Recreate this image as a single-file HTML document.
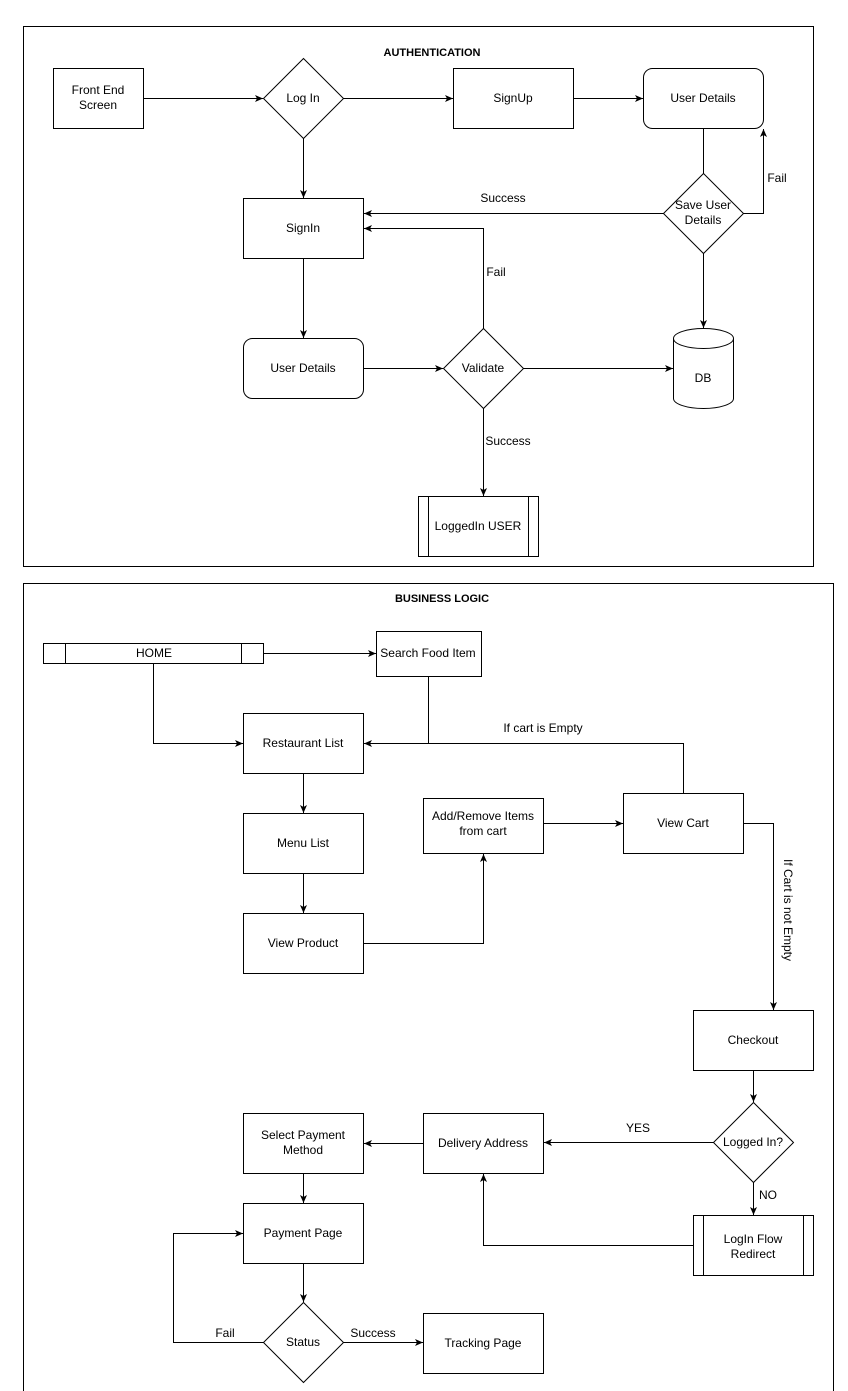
<!DOCTYPE html>
<html><head><meta charset="utf-8"><style>
html,body{margin:0;padding:0;background:#fff;}
svg{display:block;}
text{font-family:"Liberation Sans",Arial,sans-serif;font-size:12px;fill:#000;}
.b{font-weight:bold;font-size:11px;}
</style></head><body>
<svg width="848" height="1391" viewBox="0 0 848 1391" xmlns="http://www.w3.org/2000/svg">
<defs><marker id="a" markerWidth="10" markerHeight="10" refX="9" refY="5" orient="auto" markerUnits="userSpaceOnUse"><path d="M1,1.5 L9,5 L1,8.5 L3,5 Z" fill="#000"/></marker></defs>
<g fill="#fff" stroke="#000" stroke-width="1">
<rect x="23.5" y="26.5" width="790" height="540"/>
<rect x="53.5" y="68.5" width="90" height="60"/>
<polygon points="303.5,58.5 343.5,98.5 303.5,138.5 263.5,98.5"/>
<rect x="453.5" y="68.5" width="120" height="60"/>
<rect x="643.5" y="68.5" width="120" height="60" rx="9"/>
<rect x="243.5" y="198.5" width="120" height="60"/>
<rect x="243.5" y="338.5" width="120" height="60" rx="9"/>
<polygon points="483.5,328.5 523.5,368.5 483.5,408.5 443.5,368.5"/>
<path d="M673.5,338.5 v60 a30,10 0 0 0 60,0 v-60 a30,10 0 0 0 -60,0 a30,10 0 0 0 60,0"/>
<rect x="418.5" y="496.5" width="120" height="60"/>
<path d="M428.5,496.5 v60 M528.5,496.5 v60"/>
</g>
<g fill="none" stroke="#000">
<path d="M703.5,128.5 V173.5"/>
<path d="M143.5,98.5 H263" marker-end="url(#a)"/>
<path d="M343.5,98.5 H453" marker-end="url(#a)"/>
<path d="M573.5,98.5 H643" marker-end="url(#a)"/>
<path d="M303.5,138.5 V198" marker-end="url(#a)"/>
<path d="M663.5,213.5 H364" marker-end="url(#a)"/>
<path d="M743.5,213.5 H763.5 V129" marker-end="url(#a)"/>
<path d="M703.5,253.5 V328" marker-end="url(#a)"/>
<path d="M303.5,258.5 V338" marker-end="url(#a)"/>
<path d="M363.5,368.5 H443" marker-end="url(#a)"/>
<path d="M523.5,368.5 H673" marker-end="url(#a)"/>
<path d="M483.5,328.5 V228.5 H364" marker-end="url(#a)"/>
<path d="M483.5,408.5 V496" marker-end="url(#a)"/>
</g>
<g fill="#fff" stroke="#000"><polygon points="703.5,173.5 743.5,213.5 703.5,253.5 663.5,213.5"/></g>
<text class="b" x="432" y="56" text-anchor="middle">AUTHENTICATION</text>
<text x="98" y="94" text-anchor="middle">Front End</text>
<text x="98" y="109" text-anchor="middle">Screen</text>
<text x="303" y="102" text-anchor="middle">Log In</text>
<text x="513" y="102" text-anchor="middle">SignUp</text>
<text x="703" y="102" text-anchor="middle">User Details</text>
<text x="703" y="209" text-anchor="middle">Save User</text>
<text x="703" y="224" text-anchor="middle">Details</text>
<text x="503" y="202" text-anchor="middle">Success</text>
<text x="777" y="182" text-anchor="middle">Fail</text>
<text x="303" y="232" text-anchor="middle">SignIn</text>
<text x="303" y="372" text-anchor="middle">User Details</text>
<text x="483" y="372" text-anchor="middle">Validate</text>
<text x="703" y="382" text-anchor="middle">DB</text>
<text x="496" y="276" text-anchor="middle">Fail</text>
<text x="508" y="445" text-anchor="middle">Success</text>
<text x="478" y="530" text-anchor="middle">LoggedIn USER</text>

<g fill="#fff" stroke="#000">
<rect x="23.5" y="583.5" width="810" height="820"/>
<rect x="43.5" y="643.5" width="220" height="20"/>
<path d="M65.5,643.5 v20 M241.5,643.5 v20"/>
<rect x="376.5" y="631.5" width="105" height="45"/>
</g>
<g fill="none" stroke="#000">
<path d="M263.5,653.5 H376" marker-end="url(#a)"/>
<path d="M153.5,663.5 V743.5 H243" marker-end="url(#a)"/>
<path d="M428.5,676.5 V743.5 H364" marker-end="url(#a)"/>
<path d="M683.5,793.5 V743.5 H428.5"/>
<path d="M303.5,773.5 V813" marker-end="url(#a)"/>
<path d="M303.5,873.5 V913" marker-end="url(#a)"/>
<path d="M363.5,943.5 H483.5 V854" marker-end="url(#a)"/>
<path d="M543.5,823.5 H623" marker-end="url(#a)"/>
<path d="M743.5,823.5 H773.5 V1010" marker-end="url(#a)"/>
<path d="M753.5,1070.5 V1102" marker-end="url(#a)"/>
<path d="M713.5,1142.5 H544" marker-end="url(#a)"/>
<path d="M753.5,1182.5 V1215" marker-end="url(#a)"/>
<path d="M693.5,1245.5 H483.5 V1174" marker-end="url(#a)"/>
<path d="M423.5,1143.5 H364" marker-end="url(#a)"/>
<path d="M303.5,1173.5 V1203" marker-end="url(#a)"/>
<path d="M303.5,1263.5 V1302" marker-end="url(#a)"/>
<path d="M263.5,1342.5 H173.5 V1233.5 H243" marker-end="url(#a)"/>
<path d="M343.5,1342.5 H423" marker-end="url(#a)"/>
</g>
<g fill="#fff" stroke="#000">
<rect x="243.5" y="713.5" width="120" height="60"/>
<rect x="243.5" y="813.5" width="120" height="60"/>
<rect x="243.5" y="913.5" width="120" height="60"/>
<rect x="423.5" y="798.5" width="120" height="55"/>
<rect x="623.5" y="793.5" width="120" height="60"/>
<rect x="693.5" y="1010.5" width="120" height="60"/>
<polygon points="753.5,1102.5 793.5,1142.5 753.5,1182.5 713.5,1142.5"/>
<rect x="423.5" y="1113.5" width="120" height="60"/>
<rect x="243.5" y="1113.5" width="120" height="60"/>
<rect x="243.5" y="1203.5" width="120" height="60"/>
<polygon points="303.5,1302.5 343.5,1342.5 303.5,1382.5 263.5,1342.5"/>
<rect x="423.5" y="1313.5" width="120" height="60"/>
<rect x="693.5" y="1215.5" width="120" height="60"/>
<path d="M703.5,1215.5 v60 M803.5,1215.5 v60"/>
</g>
<text class="b" x="442" y="602" text-anchor="middle">BUSINESS LOGIC</text>
<text x="154" y="657" text-anchor="middle">HOME</text>
<text x="428" y="657" text-anchor="middle">Search Food Item</text>
<text x="543" y="732" text-anchor="middle">If cart is Empty</text>
<text x="303" y="747" text-anchor="middle">Restaurant List</text>
<text x="303" y="847" text-anchor="middle">Menu List</text>
<text x="303" y="947" text-anchor="middle">View Product</text>
<text x="483" y="820" text-anchor="middle">Add/Remove Items</text>
<text x="483" y="835" text-anchor="middle">from cart</text>
<text x="683" y="827" text-anchor="middle">View Cart</text>
<text x="0" y="0" text-anchor="middle" transform="translate(784,910) rotate(90)">If Cart is not Empty</text>
<text x="753" y="1044" text-anchor="middle">Checkout</text>
<text x="753" y="1146" text-anchor="middle">Logged In?</text>
<text x="638" y="1132" text-anchor="middle">YES</text>
<text x="768" y="1199" text-anchor="middle">NO</text>
<text x="483" y="1147" text-anchor="middle">Delivery Address</text>
<text x="303" y="1139" text-anchor="middle">Select Payment</text>
<text x="303" y="1154" text-anchor="middle">Method</text>
<text x="303" y="1237" text-anchor="middle">Payment Page</text>
<text x="753" y="1243" text-anchor="middle">LogIn Flow</text>
<text x="753" y="1258" text-anchor="middle">Redirect</text>
<text x="303" y="1346" text-anchor="middle">Status</text>
<text x="225" y="1337" text-anchor="middle">Fail</text>
<text x="373" y="1337" text-anchor="middle">Success</text>
<text x="483" y="1347" text-anchor="middle">Tracking Page</text>
</svg>
</body></html>
